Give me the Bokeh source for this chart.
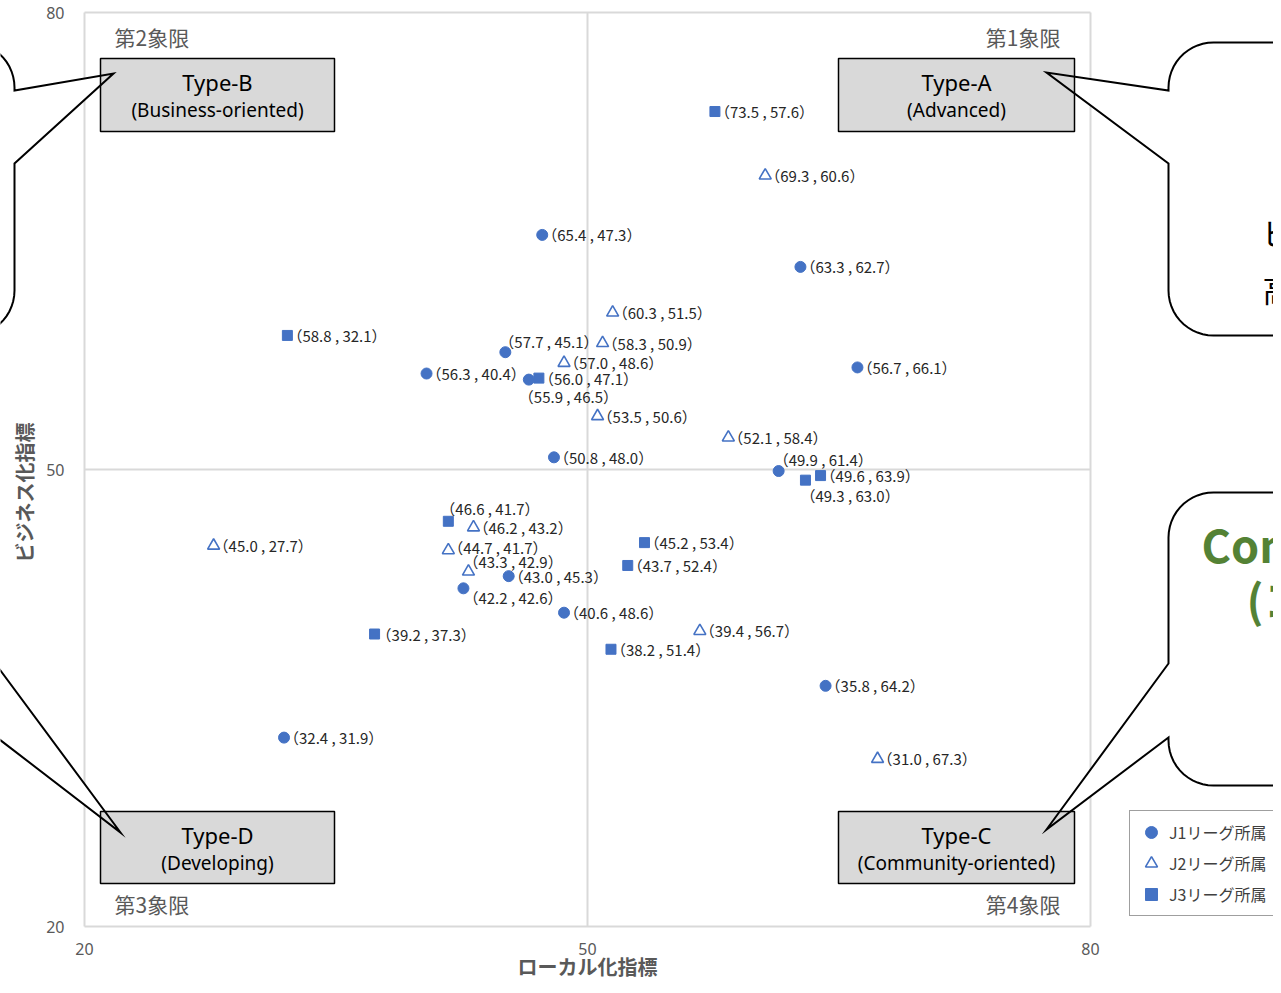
import numpy as np
from bokeh.plotting import figure
from bokeh.models import (ColumnDataSource, Range1d, LinearAxis, FixedTicker,
                          Grid, Legend, LegendItem)
from bokeh.core.properties import value
from bokeh.embed import file_html
from bokeh.resources import INLINE

# ---------------- data ----------------
X_TICKS = [20, 50, 80]
Y_TICKS = [20, 50, 80]
X_TITLE = "ローカル化指標"
Y_TITLE = "ビジネス化指標"
SERIES = ["J1リーグ所属", "J2リーグ所属", "J3リーグ所属"]

j1_local = [47.3, 62.7, 45.1, 40.4, 46.5, 66.1, 48.0, 61.4, 45.3, 42.6, 48.6, 64.2, 31.9]
j1_business = [65.4, 63.3, 57.7, 56.3, 55.9, 56.7, 50.8, 49.9, 43.0, 42.2, 40.6, 35.8, 32.4]

j2_local = [60.6, 51.5, 50.9, 48.6, 50.6, 58.4, 43.2, 41.7, 42.9, 27.7, 56.7, 67.3]
j2_business = [69.3, 60.3, 58.3, 57.0, 53.5, 52.1, 46.2, 44.7, 43.3, 45.0, 39.4, 31.0]

j3_local = [57.6, 32.1, 47.1, 63.9, 63.0, 41.7, 53.4, 52.4, 37.3, 51.4]
j3_business = [73.5, 58.8, 56.0, 49.6, 49.3, 46.6, 45.2, 43.7, 39.2, 38.2]

QUADRANTS = ["第1象限", "第2象限", "第3象限", "第4象限"]
TYPE_TITLES = ["Type-A", "Type-B", "Type-C", "Type-D"]
TYPE_SUBS = ["(Advanced)", "(Business-oriented)", "(Community-oriented)", "(Developing)"]

# label nudges (pixels) for crowded points: (series, index) -> (dx, dy)
NUDGE = {("J1", 2): (-6, -11), ("J1", 4): (-10, 17), ("J1", 7): (-5, -12),
         ("J1", 9): (0, 9), ("J2", 7): (0, -3), ("J2", 8): (-5, -10),
         ("J3", 4): (-5, 15), ("J3", 5): (-8, -13), ("J3", 8): (2, 0)}

# ---------------- geometry helpers (canvas pixels -> data) ----------------
def px_x(px):
    return 20 + (px - 84) * 60.0 / 1006.0

def px_y(py):
    return 80 - (py - 12) * 60.0 / 914.0

W, H = 1273, 977

p = figure(width=W, height=H,
           x_range=Range1d(px_x(0), px_x(W)),
           y_range=Range1d(px_y(H), px_y(0)),
           x_axis_type=None, y_axis_type=None,
           output_backend="svg", toolbar_location=None,
           min_border=0, outline_line_color=None,
           background_fill_color="white", border_fill_color="white")

GRID_C = "#D9D9D9"
gx = Grid(dimension=0, ticker=FixedTicker(ticks=X_TICKS), cross_bounds=(20, 80),
          grid_line_color=GRID_C, grid_line_width=2)
gy = Grid(dimension=1, ticker=FixedTicker(ticks=Y_TICKS), cross_bounds=(20, 80),
          grid_line_color=GRID_C, grid_line_width=2)
p.add_layout(gx)
p.add_layout(gy)

AX_FONT = "Noto Sans"
JP = "Noto Sans CJK JP"
xaxis = LinearAxis(fixed_location=20, ticker=FixedTicker(ticks=X_TICKS), bounds=(20, 80),
                   axis_label=X_TITLE)
yaxis = LinearAxis(fixed_location=20, ticker=FixedTicker(ticks=Y_TICKS),
                   bounds=(px_y(974), px_y(10)), axis_label=Y_TITLE)
for ax, ls, ts in ((xaxis, 16, -6), (yaxis, 20, 4)):
    ax.axis_line_color = None
    ax.major_tick_line_color = None
    ax.minor_tick_line_color = None
    ax.major_tick_out = 0
    ax.major_tick_in = 0
    ax.major_label_text_font = AX_FONT
    ax.major_label_text_font_size = "16px"
    ax.major_label_text_color = "#595959"
    ax.major_label_standoff = ls
    ax.axis_label_text_font = JP
    ax.axis_label_text_font_size = "20px"
    ax.axis_label_text_font_style = "bold"
    ax.axis_label_text_color = "#595959"
    ax.axis_label_standoff = ts
p.add_layout(xaxis, "below")
p.add_layout(yaxis, "left")

# ---------------- callouts (decorative, partially outside the view) ----------------
def callout(left, top, right, bottom, r, side, t0, tip, t1, n=14):
    pts = []
    def arc(cx, cy, a0, a1):
        for a in np.linspace(np.radians(a0), np.radians(a1), n):
            pts.append((cx + r * np.cos(a), cy + r * np.sin(a)))
    arc(left + r, top + r, 180, 270)
    arc(right - r, top + r, 270, 360)
    if side == "right":
        pts.extend([(right, t0), tip, (right, t1)])
    arc(right - r, bottom - r, 0, 90)
    arc(left + r, bottom - r, 90, 180)
    if side == "left":
        pts.extend([(left, t1), tip, (left, t0)])
    xs = [px_x(a) for a, b in pts]
    ys = [px_y(b) for a, b in pts]
    return xs, ys

callouts = [
    callout(-300, 42, 14, 335, 45, "right", 90, (113, 73), 163),
    callout(1168, 42, 1600, 335, 45, "left", 90, (1046, 72), 163),
    callout(1168, 492, 1600, 785, 45, "left", 663, (1046, 829), 737),
    callout(-400, 430, -40, 760, 45, "right", 616, (120, 832), 709),
]
for xs, ys in callouts:
    p.patch(xs, ys, fill_color="white", line_color=None)

# type boxes
box_px = [(838, 1074, 58, 131), (100, 334, 58, 131), (838, 1074, 811, 883), (100, 334, 811, 883)]
p.quad(left=[px_x(b[0]) for b in box_px], right=[px_x(b[1]) for b in box_px],
       top=[px_y(b[2]) for b in box_px], bottom=[px_y(b[3]) for b in box_px],
       fill_color="#D9D9D9", line_color="black", line_width=1.5)

for xs, ys in callouts:
    p.line(xs + [xs[0]], ys + [ys[0]], line_color="black", line_width=2, line_join="miter")

cx = [px_x((b[0] + b[1]) / 2) for b in box_px]
p.text(x=cx, y=[px_y(b[2] + 23) for b in box_px], text=TYPE_TITLES,
       text_font=value(AX_FONT), text_font_size="22px", text_color="black",
       text_align="center", text_baseline="middle")
p.text(x=cx, y=[px_y(b[2] + 51) for b in box_px], text=TYPE_SUBS,
       text_font=value(AX_FONT), text_font_size="19px", text_color="black",
       text_align="center", text_baseline="middle")

# quadrant labels
p.text(x=[px_x(1060), px_x(1060)], y=[px_y(36), px_y(903)], text=[QUADRANTS[0], QUADRANTS[3]],
       text_font=value(JP), text_font_size="21px", text_color="#595959",
       text_align="right", text_baseline="middle")
p.text(x=[px_x(114), px_x(114)], y=[px_y(36), px_y(903)], text=[QUADRANTS[1], QUADRANTS[2]],
       text_font=value(JP), text_font_size="21px", text_color="#595959",
       text_align="left", text_baseline="middle")

# callout texts (cut off at the right edge like the reference)
p.text(x=[px_x(1262), px_x(1262)], y=[px_y(231), px_y(288)],
       text=["ビジネス化・ローカル化ともに", "高い水準"],
       text_font=value(JP), text_font_size="31px", text_color="black",
       text_align="left", text_baseline="middle")
p.text(x=[px_x(1201), px_x(1246)], y=[px_y(543), px_y(598)],
       text=["Community-oriented", "(コミュニティ型)"],
       text_font=value(JP), text_font_style="bold", text_font_size="45px",
       text_color="#548235", text_align="left", text_baseline="middle")

# ---------------- scatter series ----------------
BLUE = "#4472C4"

def make_src(key, xs, ys):
    dxs, dys = [], []
    for i in range(len(xs)):
        d = NUDGE.get((key, i), (0, 0))
        dxs.append(d[0]); dys.append(d[1])
    labels = ["（%.1f , %.1f）" % (b, a) for a, b in zip(xs, ys)]
    return ColumnDataSource(dict(x=xs, y=ys, label=labels, dx=dxs, dy=dys))

s1 = make_src("J1", j1_local, j1_business)
s2 = make_src("J2", j2_local, j2_business)
s3 = make_src("J3", j3_local, j3_business)

r1 = p.scatter("x", "y", source=s1, marker="circle", size=11, fill_color=BLUE, line_color=BLUE)
r2 = p.scatter("x", "y", source=s2, marker="triangle", size=12, fill_color="white",
               line_color=BLUE, line_width=1.6)
r3 = p.scatter("x", "y", source=s3, marker="square", size=10, fill_color=BLUE, line_color=BLUE)

for s in (s1, s2, s3):
    p.text(x="x", y="y", text="label", x_offset="dx", y_offset="dy", source=s,
           text_font=value(JP), text_font_size="15px", text_color="#262626",
           text_align="left", text_baseline="middle")

legend = Legend(items=[LegendItem(label=SERIES[0], renderers=[r1]),
                       LegendItem(label=SERIES[1], renderers=[r2]),
                       LegendItem(label=SERIES[2], renderers=[r3])],
                location=(1129, 61), orientation="vertical",
                glyph_width=30, glyph_height=30, label_height=30, label_width=140,
                spacing=1, padding=6, margin=0, label_standoff=3,
                label_text_font=JP, label_text_font_size="16px", label_text_color="#404040",
                border_line_color="#404040", border_line_width=1,
                background_fill_color="white", background_fill_alpha=1)
p.add_layout(legend)

open("out.html", "w").write(file_html(p, INLINE))
